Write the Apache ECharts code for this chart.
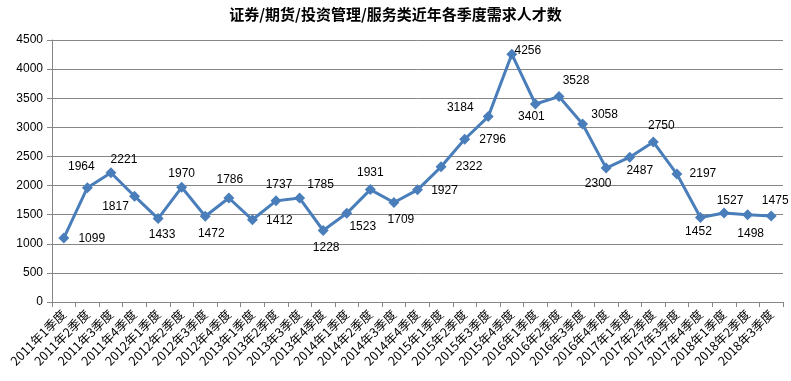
<!DOCTYPE html>
<html>
<head>
<meta charset="utf-8">
<script src="https://cdn.jsdelivr.net/npm/echarts@6/dist/echarts.min.js"></script>
<style>
html,body{margin:0;padding:0;background:#fff;}
#c{width:791px;height:381px;}
</style>
</head>
<body>
<div id="c"></div>
<script>
var title = '证券/期货/投资管理/服务类近年各季度需求人才数';
var categories = [
  '2011年1季度','2011年2季度','2011年3季度','2011年4季度',
  '2012年1季度','2012年2季度','2012年3季度','2012年4季度',
  '2013年1季度','2013年2季度','2013年3季度','2013年4季度',
  '2014年1季度','2014年2季度','2014年3季度','2014年4季度',
  '2015年1季度','2015年2季度','2015年3季度','2015年4季度',
  '2016年1季度','2016年2季度','2016年3季度','2016年4季度',
  '2017年1季度','2017年2季度','2017年3季度','2017年4季度',
  '2018年1季度','2018年2季度','2018年3季度'
];
var demand = [
  1099, 1964, 2221, 1817,
  1433, 1970, 1472, 1786,
  1412, 1737, 1785, 1228,
  1523, 1931, 1709, 1927,
  2322, 2796, 3184, 4256,
  3401, 3528, 3058, 2300,
  2487, 2750, 2197, 1452,
  1527, 1498, 1475
];
var yTicks = [0, 500, 1000, 1500, 2000, 2500, 3000, 3500, 4000, 4500];

// label placement (layout only): offset of label centre from the marker
var labelOffsets = [
  [28,1],[-6,-21],[13,-13],[-19,10],
  [4,16],[0,-14],[6,17],[1,-18],
  [27,1],[3,-16],[21,-13],[3,17],
  [16,13],[0,-17],[7,17],[27,1],
  [28,0],[28,0],[-28,-9],[16,-4],
  [-4,13],[17,-16],[22,-9],[-8,16],
  [10,13],[8,-16],[26,0],[-2,14],
  [6,-12],[3,19],[4,-15]
];

var seriesData = demand.map(function(v, i){
  return {
    value: v,
    label: { offset: labelOffsets[i] }
  };
});

var chart = echarts.init(document.getElementById('c'), null, {renderer:'canvas'});
chart.setOption({
  backgroundColor: '#ffffff',
  animation: false,
  title: {
    text: title,
    left: 'center',
    top: 2,
    textStyle: { fontFamily: '"Noto Sans CJK SC"', fontSize: 15, fontWeight: 'bold', color: '#000' }
  },
  grid: { left: 52, right: 8, top: 40, bottom: 79 },
  xAxis: {
    type: 'category',
    data: categories,
    boundaryGap: true,
    axisLine: { lineStyle: { color: '#868686', width: 1 } },
    axisTick: { show: true, alignWithLabel: false, length: 5, lineStyle: { color: '#868686' } },
    axisLabel: {
      interval: 0,
      rotate: 45,
      margin: 10,
      fontFamily: '"Noto Sans CJK SC"',
      fontSize: 12.5,
      color: '#000'
    },
    splitLine: { show: false }
  },
  yAxis: {
    type: 'value',
    min: yTicks[0],
    max: yTicks[yTicks.length - 1],
    interval: 500,
    axisLine: { show: true, lineStyle: { color: '#868686', width: 1 } },
    axisTick: { show: true, length: 5, lineStyle: { color: '#868686' } },
    axisLabel: {
      margin: 9, fontFamily: '"Liberation Sans"', fontSize: 12, color: '#000',
      formatter: function (v) { return String(v); }
    },
    splitLine: { show: true, lineStyle: { color: '#868686', width: 1 } }
  },
  series: [{
    type: 'line',
    data: seriesData,
    symbol: 'diamond',
    symbolSize: 11,
    showAllSymbol: true,
    lineStyle: { color: '#4A7EBB', width: 3 },
    itemStyle: { color: '#4A7EBB' },
    label: {
      show: true,
      position: 'inside',
      align: 'center',
      verticalAlign: 'middle',
      fontFamily: '"Liberation Sans"',
      fontSize: 12,
      color: '#000'
    }
  }]
});
</script>
</body>
</html>
